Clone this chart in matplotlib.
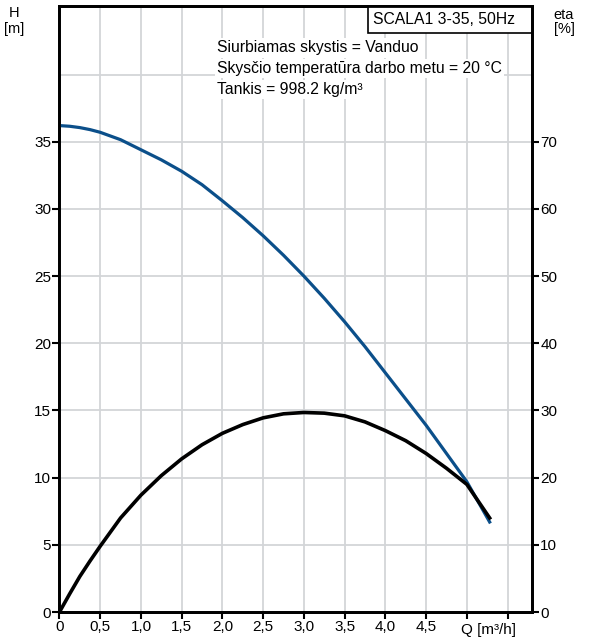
import matplotlib
matplotlib.use("Agg")
import matplotlib.pyplot as plt
from matplotlib.patches import Rectangle

plt.rcParams['font.family'] = ['Liberation Sans', 'DejaVu Sans']

# flow [m3/h]
q = [0, 0.125, 0.25, 0.375, 0.5, 0.75, 1.0, 1.25, 1.5, 1.75, 2.0, 2.25, 2.5, 2.75,
     3.0, 3.25, 3.5, 3.75, 4.0, 4.25, 4.5, 4.75, 5.0, 5.28]
# head [m]
head = [36.2, 36.15, 36.05, 35.9, 35.7, 35.15, 34.4, 33.65, 32.8, 31.8, 30.6, 29.35, 28.0, 26.55,
        25.0, 23.35, 21.6, 19.75, 17.8, 15.85, 13.9, 11.8, 9.7, 6.7]
# efficiency [%]
eta = [0, 2.7, 5.3, 7.6, 9.8, 14.0, 17.4, 20.3, 22.8, 24.9, 26.6, 27.9, 28.9, 29.5,
       29.7, 29.6, 29.2, 28.3, 27.0, 25.5, 23.6, 21.4, 19.0, 14.0]

x_ticks = [0, 0.5, 1.0, 1.5, 2.0, 2.5, 3.0, 3.5, 4.0, 4.5, 5.0, 5.5]
x_labels = ["0", "0,5", "1,0", "1,5", "2,0", "2,5", "3,0", "3,5", "4,0", "4,5", "", ""]
h_ticks = [0, 5, 10, 15, 20, 25, 30, 35]
eta_ticks = [0, 10, 20, 30, 40, 50, 60, 70]

info_lines = ["Siurbiamas skystis = Vanduo",
              "Skysčio temperatūra darbo metu = 20 °C",
              "Tankis = 998.2 kg/m³"]

fig = plt.figure(figsize=(5.9, 6.37), dpi=100)
ax = fig.add_axes([0.1008, 0.0392, 0.8009, 0.9514])
ax.set_xlim(0, 5.8)
ax.set_ylim(0, 45.1)

# grid
for xv in x_ticks[1:]:
    ax.axvline(xv, color='#d3d5d8', lw=1.3, zorder=0)
for yv in h_ticks[1:] + [40]:
    ax.axhline(yv, color='#d3d5d8', lw=1.3, zorder=0)

ax.set_xticks(x_ticks)
ax.set_xticklabels(x_labels, fontsize=11)
ax.set_yticks(h_ticks)
ax.set_yticklabels([str(t) for t in h_ticks], fontsize=11)
ax.tick_params(axis='both', length=5, width=1.5, direction='out', pad=1)

for s in ax.spines.values():
    s.set_linewidth(2)

ax2 = ax.twinx()
ax2.set_ylim(0, 45.1 * 2)
ax2.set_yticks(eta_ticks)
ax2.set_yticklabels([str(t) for t in eta_ticks], fontsize=11)
ax2.tick_params(axis='y', length=5, width=1.5, direction='out', pad=1)
for s in ax2.spines.values():
    s.set_linewidth(2)

ax.plot(q, head, color='#0b4f8a', lw=2.3, zorder=3, solid_joinstyle='round')
ax2.plot(q, eta, color='black', lw=2.6, zorder=3, solid_joinstyle='round')

# info text with white background
for i, line in enumerate(info_lines):
    ax.text(0.333, 0.9307 - i * 0.034, line, transform=ax.transAxes, fontsize=11.3,
            va='center', ha='left', zorder=5,
            bbox=dict(facecolor='white', edgecolor='none', pad=1.5))

# title box
ax.add_patch(Rectangle((0.653, 0.955), 0.347, 0.045, transform=ax.transAxes,
                       facecolor='white', edgecolor='black', lw=1.2, zorder=6,
                       clip_on=False))
ax.text(0.664, 0.9775, "SCALA1 3-35, 50Hz", transform=ax.transAxes, fontsize=11.3,
        va='center', ha='left', zorder=7)

# axis labels
fig.text(14 / 590, 1 - 21 / 637, "H\n[m]", fontsize=10.5, ha='center', va='center',
         linespacing=1.15)
fig.text(564 / 590, 1 - 22 / 637, "eta\n[%]", fontsize=10.5, ha='center', va='center',
         linespacing=1.05)
ax.text(5.27, -0.8, "Q [m³/h]", fontsize=11, ha='center', va='top')

fig.savefig("out.png", dpi=100)
